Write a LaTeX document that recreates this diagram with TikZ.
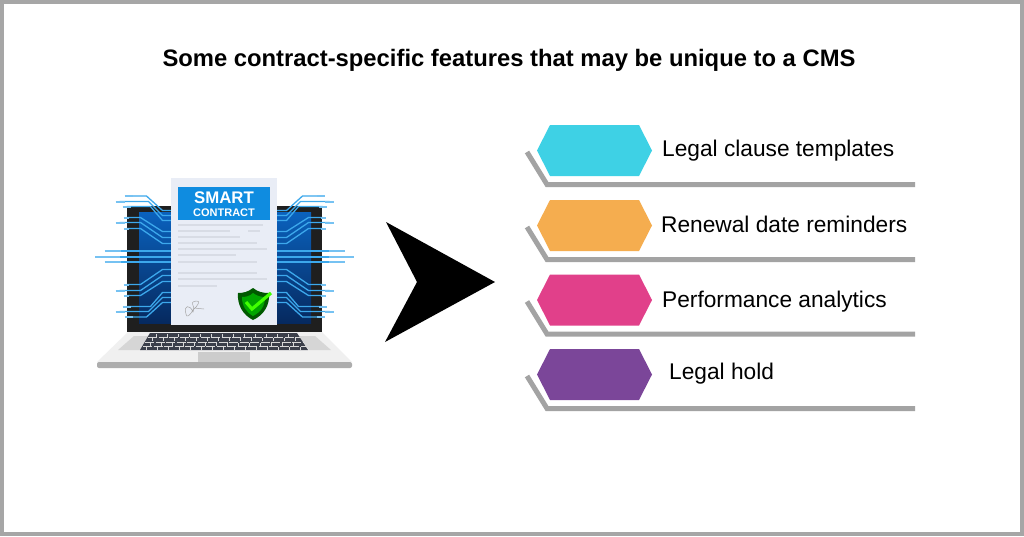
\documentclass[tikz,border=0pt]{standalone}
\usepackage{fontspec,xcolor}
\setmainfont{Liberation Sans}
\definecolor{framegray}{HTML}{A6A6A6}
\definecolor{railgray}{HTML}{A3A3A3}
\definecolor{hexcyan}{HTML}{3ED1E5}
\definecolor{hexorange}{HTML}{F5AD4F}
\definecolor{hexpink}{HTML}{E1408A}
\definecolor{hexpurple}{HTML}{7B4699}
\definecolor{tracecyan}{HTML}{3CA8EC}
\definecolor{bannerblue}{HTML}{0F8CE0}
\definecolor{paperwhite}{HTML}{E9EDF6}
\definecolor{linegray}{HTML}{D8DCE5}
\definecolor{keydark}{HTML}{3B3F4A}
\definecolor{screentop}{HTML}{0A62BE}
\definecolor{screenbot}{HTML}{06295F}
\tikzset{
    itemtext/.style={anchor=west,inner sep=0pt,font=\fontsize{22.7}{25}\selectfont},
    titletext/.style={inner sep=0pt,font=\fontsize{23.8}{26}\selectfont\bfseries},
    railline/.style={draw=railgray,line width=5pt,line join=miter},
    traceline/.style={draw=tracecyan,line width=1.3pt},
    tracestub/.style={draw=tracecyan!70!white,line width=2pt},
    papertext/.style={draw=linegray,line width=1.2pt}
}
\begin{document}
\begin{tikzpicture}[x=1pt,y=-1pt]
        \useasboundingbox (0,0) rectangle (1024,536);
        \fill[white] (0,0) rectangle (1024,536);
        \draw[framegray,line width=4pt] (2,2) rectangle (1022,534);
        \node[titletext] (title) at (509,60) {Some contract-specific features that may be unique to a CMS};
        % laptop
        \fill[black!88] (127,206) rectangle (322,332);
        \fill[top color=screentop,bottom color=screenbot] (139,212) rectangle (311,323);
        % circuit traces, one quarter mirrored
        \foreach \mx in {1,-1} {
            \foreach \my in {1,-1} {
                \begin{scope}[shift={(224.5,256.5)},xscale=\mx,yscale=\my]
                    \draw[traceline] (-96,-60.5) -- (-78,-60.5) -- (-62,-46) -- (-50,-46);
                    \draw[traceline] (-105,-55) -- (-76,-55) -- (-62,-41) -- (-50,-41);
                    \draw[traceline] (-98,-50) -- (-74,-50) -- (-62,-36) -- (-50,-36);
                    \draw[traceline] (-98,-39) -- (-84,-39) -- (-62,-25) -- (-50,-25);
                    \draw[traceline] (-105,-34) -- (-84,-34) -- (-62,-19) -- (-50,-19);
                    \draw[traceline] (-98,-28) -- (-84,-28) -- (-62,-13) -- (-50,-13);
                    \draw[traceline] (-118,-5.5) -- (-50,-5.5);
                    \draw[tracestub] (-100,-60.5) -- (-92,-60.5);
                    \draw[tracestub] (-109,-55) -- (-100,-55);
                    \draw[tracestub] (-102,-50) -- (-94,-50);
                    \draw[tracestub] (-101,-39) -- (-96,-39);
                    \draw[tracestub] (-109,-34) -- (-100,-34);
                    \draw[tracestub] (-101,-28) -- (-96,-28);
                    \draw[tracestub] (-120,-5.5) -- (-104,-5.5);
                \end{scope}
            }
        }
        \draw[traceline] (95,257) -- (354,257);
        \draw[tracestub] (95,257) -- (120,257);
        \draw[tracestub] (329,257) -- (354,257);
        % laptop base
        \fill[black!6] (128,332) -- (322,332) -- (352,362) -- (97,362) -- cycle;
        \fill[black!32,rounded corners=2pt] (97,362) rectangle (352,368);
        \fill[black!16] (118,350) -- (134,336) -- (150,336) -- (140,350) -- cycle;
        \fill[black!16] (331,350) -- (315,336) -- (299,336) -- (309,350) -- cycle;
        \fill[keydark] (150,333) -- (297,333) -- (308,350) -- (140,350) -- cycle;
        \foreach \ky/\kx in {337.5/148,342/145,346.5/143} {
            \draw[white!85!black,line width=0.8pt,dash pattern=on 9pt off 1.5pt] (\kx,\ky) -- (449-\kx,\ky);
        }
        \foreach \ky/\kx in {335/156,339.5/152,344/150,348/146} {
            \draw[white!85!black,line width=3pt,dash pattern=on 1pt off 10pt] (\kx,\ky) -- (449-\kx,\ky);
        }
        \fill[black!20] (198,352) rectangle (250,362);
        % paper
        \fill[paperwhite] (171,178) rectangle (277,325);
        \fill[bannerblue] (178,187) rectangle (270,220);
        \node[inner sep=0pt,text=white,font=\fontsize{16.8}{18}\selectfont\bfseries] (smart) at (224,197.5) {SMART};
        \node[inner sep=0pt,text=white,font=\fontsize{11}{12}\selectfont\bfseries] (contract) at (224,212.5) {CONTRACT};
        \foreach \ly/\lx in {225/263,231/230,237/240,243/257,249/267,255/236,262/257,273/257,279/267,286/217} {
            \draw[papertext] (178,\ly) -- (\lx,\ly);
        }
        \draw[papertext] (248,231) -- (260,231);
        % signature
        \draw[black!35,line width=0.5pt] (186,314) .. controls (183,305) and (190,304) .. (193,312) .. controls (196,304) and (188,303) .. (196,301) .. controls (201,300) and (198,306) .. (193,310) .. controls (190,316) and (186,318) .. (186,314) (194,308) -- (204,309);
        % shield
        \fill[green!35!black] (253,288) .. controls (258,292) and (263,293) .. (269,293) .. controls (270,305) and (264,315) .. (253,320) .. controls (243,315) and (237,305) .. (238,293) .. controls (243,293) and (248,292) .. (253,288) -- cycle;
        \fill[green!65!black] (253,293) .. controls (257,296) and (261,297) .. (265,297) .. controls (265,306) and (261,312) .. (253,316) .. controls (246,312) and (242,306) .. (242,297) .. controls (246,297) and (250,296) .. (253,293) -- cycle;
        \draw[green!75!yellow,line width=3.2pt] (246,302) -- (252,309) -- (271,293);
        % arrow
        \fill[black] (386,222) -- (495,282) -- (385,342) -- (417,282) -- cycle;
        % list items
        \foreach \hy/\hcol in {125/hexcyan,200/hexorange,274.5/hexpink,349/hexpurple} {
            \fill[\hcol] (537,\hy+25.5) -- (550,\hy) -- (639,\hy) -- (652,\hy+25.5) -- (639,\hy+51) -- (550,\hy+51) -- cycle;
            \draw[railline] (527,\hy+27) -- (547,\hy+59.5) -- (915,\hy+59.5);
        }
        \node[itemtext] (clause) at (662,151) {Legal clause templates};
        \node[itemtext] (renewal) at (661,224) {Renewal date reminders};
        \node[itemtext] (analytics) at (662,302) {Performance analytics};
        \node[itemtext] (hold) at (669,374) {Legal hold};
    \end{tikzpicture}
\end{document}
